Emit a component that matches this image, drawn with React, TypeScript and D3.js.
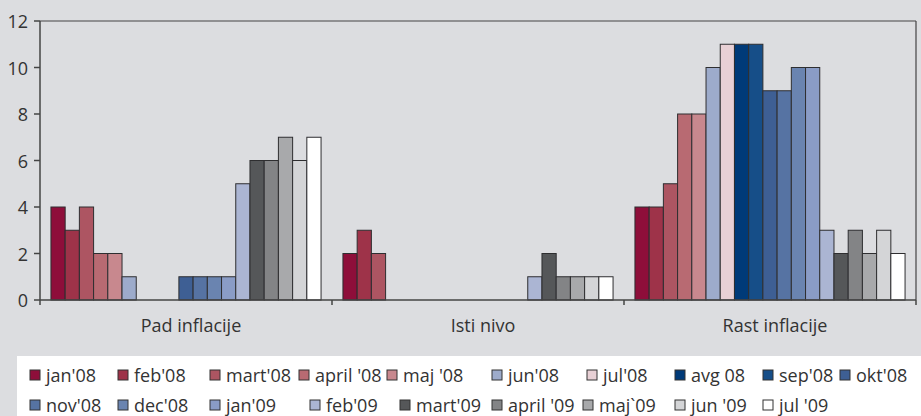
import { scaleBand, scaleLinear } from "d3";

const categories = ["Pad inflacije", "Isti nivo", "Rast inflacije"];

const seriesNames = [
  "jan'08", "feb'08", "mart'08", "april '08", "maj '08", "jun'08", "jul'08",
  "avg 08", "sep'08", "okt'08", "nov'08", "dec'08", "jan'09", "feb'09",
  "mart'09", "april '09", "maj`09", "jun '09", "jul '09",
];

const seriesColors = [
  "#8e0e3a", "#9e3349", "#ad5562", "#b86a72", "#c8888e", "#9dabcb", "#e8d0d5",
  "#003a78", "#164e88", "#3e5f94", "#5673a3", "#6a84b0", "#8a9cc6", "#abb5d3",
  "#555759", "#838486", "#a8a9ab", "#d4d5d7", "#ffffff",
];

// one value per series, per category
const padInflacije = [4, 3, 4, 2, 2, 1, 0, 0, 0, 1, 1, 1, 1, 5, 6, 6, 7, 6, 7];
const istiNivo = [2, 3, 2, 0, 0, 0, 0, 0, 0, 0, 0, 0, 0, 1, 2, 1, 1, 1, 1];
const rastInflacije = [4, 4, 5, 8, 8, 10, 11, 11, 11, 9, 9, 10, 10, 3, 2, 3, 2, 3, 2];

const yTicks = [0, 2, 4, 6, 8, 10, 12];

const values = [padInflacije, istiNivo, rastInflacije];

// legend layout (two rows, uneven columns like the original)
const legendRow1X = [30, 118, 210, 299, 387, 492, 587, 675, 763, 840];
const legendRow2X = [30, 118, 210, 310, 400, 492, 583, 675, 763];

export default function App() {
  const width = 921;
  const height = 416;
  const plot = { left: 40, right: 916, top: 21, bottom: 300 };
  const font = "'Open Sans', sans-serif";
  const textColor = "#333";

  const x0 = scaleBand<string>()
    .domain(categories)
    .range([plot.left, plot.right])
    .padding(0);

  const x1 = scaleBand<string>()
    .domain(seriesNames)
    .range([0, x0.bandwidth()])
    .paddingInner(0)
    .paddingOuter(0.77);

  const y = scaleLinear().domain([0, 12]).range([plot.bottom, plot.top]);

  const legendItems = seriesNames.map((name, i) => {
    const row = i < legendRow1X.length ? 0 : 1;
    const col = row === 0 ? i : i - legendRow1X.length;
    const lx = row === 0 ? legendRow1X[col] : legendRow2X[col];
    const ly = row === 0 ? 375 : 405;
    return { name, color: seriesColors[i], lx, ly };
  });

  return (
    <svg
      width={width}
      height={height}
      style={{ position: "absolute", left: 0, top: 0 }}
      fontFamily={font}
    >
      <rect x={0} y={0} width={width} height={height} fill="#dcdde0" />
      <rect x={17} y={356} width={width - 17} height={height - 356} fill="#ffffff" />

      {/* plot frame */}
      <line x1={plot.left} x2={plot.right} y1={plot.top} y2={plot.top} stroke="#444" strokeWidth={1.2} />
      <line x1={plot.right} x2={plot.right} y1={plot.top} y2={plot.bottom} stroke="#444" strokeWidth={1.2} />

      {/* bars */}
      {categories.map((cat, ci) => (
        <g key={cat} transform={`translate(${x0(cat)},0)`}>
          {seriesNames.map((s, si) => {
            const v = values[ci][si];
            if (!v) return null;
            return (
              <rect
                key={s}
                x={x1(s)}
                y={y(v)}
                width={x1.bandwidth()}
                height={y(0) - y(v)}
                fill={seriesColors[si]}
                stroke="#2e2e30"
                strokeWidth={1}
              />
            );
          })}
        </g>
      ))}

      {/* y axis */}
      <line x1={plot.left} x2={plot.left} y1={plot.top} y2={plot.bottom + 5} stroke="#444" strokeWidth={1.5} />
      {yTicks.map((t) => (
        <g key={t}>
          <line x1={plot.left - 6} x2={plot.left} y1={y(t)} y2={y(t)} stroke="#444" strokeWidth={1.5} />
          <text
            x={plot.left - 12}
            y={y(t)}
            textAnchor="end"
            dominantBaseline="central"
            fontSize={18}
            fill={textColor}
          >
            {t}
          </text>
        </g>
      ))}

      {/* x axis */}
      <line x1={plot.left} x2={plot.right} y1={plot.bottom} y2={plot.bottom} stroke="#444" strokeWidth={1.5} />
      {categories.map((cat) => (
        <line
          key={cat + "-tick"}
          x1={(x0(cat) as number) + x0.bandwidth()}
          x2={(x0(cat) as number) + x0.bandwidth()}
          y1={plot.bottom}
          y2={plot.bottom + 5}
          stroke="#444"
          strokeWidth={1.5}
        />
      ))}
      {categories.map((cat) => (
        <text
          key={cat + "-label"}
          x={(x0(cat) as number) + x0.bandwidth() / 2 + 5}
          y={325}
          textAnchor="middle"
          dominantBaseline="central"
          fontSize={18}
          fill={textColor}
        >
          {cat}
        </text>
      ))}

      {/* legend */}
      {legendItems.map((it) => (
        <g key={it.name}>
          <rect
            x={it.lx}
            y={it.ly - 5}
            width={10}
            height={10}
            fill={it.color}
            stroke="#333"
            strokeWidth={1}
          />
          <text
            x={it.lx + 16}
            y={it.ly}
            dominantBaseline="central"
            fontSize={18}
            fill={textColor}
          >
            {it.name}
          </text>
        </g>
      ))}
    </svg>
  );
}
